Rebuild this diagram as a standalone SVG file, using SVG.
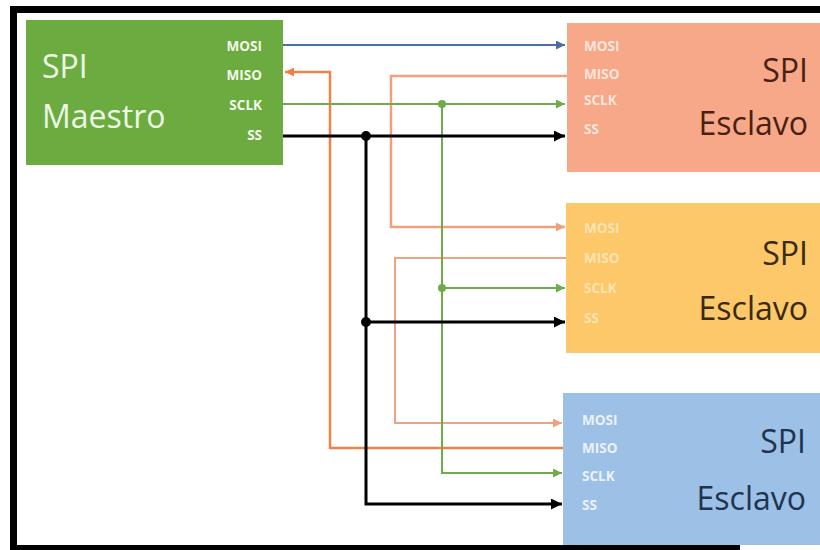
<svg xmlns="http://www.w3.org/2000/svg" width="820" height="550" viewBox="0 0 820 550">
  <style>
    .title { font-family: "Open Sans", "Liberation Sans", sans-serif; font-size: 32px; }
    .pin { font-family: "Open Sans", "Liberation Sans", sans-serif; font-size: 13.5px; font-weight: bold; }
    .wire { fill: none; stroke-linejoin: miter; }
  </style>
  <defs>
    <marker id="a-blue" viewBox="0 0 10 10" refX="10" refY="5" markerWidth="9" markerHeight="9" markerUnits="userSpaceOnUse" orient="auto"><path d="M0,0 L10,5 L0,10 z" fill="#4a6fa5"/></marker>
    <marker id="a-orange" viewBox="0 0 10 10" refX="10" refY="5" markerWidth="9" markerHeight="9" markerUnits="userSpaceOnUse" orient="auto"><path d="M0,0 L10,5 L0,10 z" fill="#ee7f45"/></marker>
    <marker id="a-salmon" viewBox="0 0 10 10" refX="10" refY="5" markerWidth="9" markerHeight="9" markerUnits="userSpaceOnUse" orient="auto"><path d="M0,0 L10,5 L0,10 z" fill="#f0a07c"/></marker>
    <marker id="a-green" viewBox="0 0 10 10" refX="10" refY="5" markerWidth="9" markerHeight="9" markerUnits="userSpaceOnUse" orient="auto"><path d="M0,0 L10,5 L0,10 z" fill="#6fab4a"/></marker>
    <marker id="a-black" viewBox="0 0 10 10" refX="10" refY="5" markerWidth="11" markerHeight="11" markerUnits="userSpaceOnUse" orient="auto"><path d="M0,0 L10,5 L0,10 z" fill="#000"/></marker>
  </defs>

  <rect x="0" y="0" width="820" height="550" fill="#ffffff"/>

  <!-- frame -->
  <g id="frame" fill="#000">
    <rect x="10" y="6" width="810" height="7"/>
    <rect x="10" y="6" width="7" height="544"/>
    <rect x="10" y="545" width="730" height="5"/>
  </g>

  <g id="master">
    <rect x="26" y="20" width="257" height="145" fill="#6cab3f"/>
    <text class="title" x="42" y="78" fill="#eef7e6">SPI</text>
    <text class="title" x="42" y="128" fill="#eef7e6">Maestro</text>
    <g class="pin" fill="#f2f9ec" text-anchor="end">
      <text x="262" y="51">MOSI</text>
      <text x="262" y="80">MISO</text>
      <text x="262" y="110">SCLK</text>
      <text x="262" y="140">SS</text>
    </g>
  </g>

  <g id="slave1">
    <rect x="567" y="23" width="253" height="149" fill="#f6a888"/>
    <text class="title" x="808" y="82" text-anchor="end" fill="#4a1f14">SPI</text>
    <text class="title" x="808" y="135" text-anchor="end" fill="#4a1f14">Esclavo</text>
    <g class="pin" fill="#fde6dc">
      <text x="584" y="51">MOSI</text>
      <text x="584" y="79">MISO</text>
      <text x="584" y="105">SCLK</text>
      <text x="584" y="134">SS</text>
    </g>
  </g>

  <g id="slave2">
    <rect x="566" y="203" width="254" height="150" fill="#fcc86a"/>
    <text class="title" x="808" y="265" text-anchor="end" fill="#3a2a10">SPI</text>
    <text class="title" x="808" y="320" text-anchor="end" fill="#3a2a10">Esclavo</text>
    <g class="pin" fill="#fde3b4">
      <text x="584" y="233">MOSI</text>
      <text x="584" y="263">MISO</text>
      <text x="584" y="293">SCLK</text>
      <text x="584" y="323">SS</text>
    </g>
  </g>

  <g id="slave3">
    <rect x="563" y="393" width="257" height="152" fill="#9cc0e6"/>
    <text class="title" x="806" y="453" text-anchor="end" fill="#1f3450">SPI</text>
    <text class="title" x="806" y="510" text-anchor="end" fill="#1f3450">Esclavo</text>
    <g class="pin" fill="#eaf2fb">
      <text x="582" y="425">MOSI</text>
      <text x="582" y="453">MISO</text>
      <text x="582" y="481">SCLK</text>
      <text x="582" y="510">SS</text>
    </g>
  </g>

  <g id="connectors">
    <!-- MOSI master -> slave1 -->
    <path class="wire" d="M283,45 H565" stroke="#4a6fa5" stroke-width="2" marker-end="url(#a-blue)"/>
    <!-- slave1 MISO -> slave2 MOSI -->
    <path class="wire" d="M567,76 H391 V227 H565" stroke="#f2a07c" stroke-width="2.5" marker-end="url(#a-salmon)"/>
    <!-- slave2 MISO -> slave3 MOSI -->
    <path class="wire" d="M566,258 H395 V423 H562" stroke="#eea184" stroke-width="2" marker-end="url(#a-salmon)"/>
    <!-- slave3 MISO -> master MISO -->
    <path class="wire" d="M563,448 H330 V72 H285" stroke="#ee8248" stroke-width="2.5" marker-end="url(#a-orange)"/>
    <!-- SCLK -->
    <path class="wire" d="M283,104 H565" stroke="#6fab4a" stroke-width="2" marker-end="url(#a-green)"/>
    <path class="wire" d="M442,104 V473 H562" stroke="#6fab4a" stroke-width="2" marker-end="url(#a-green)"/>
    <path class="wire" d="M442,288 H565" stroke="#6fab4a" stroke-width="2" marker-end="url(#a-green)"/>
    <circle cx="442" cy="104" r="4" fill="#6fab4a"/>
    <circle cx="442" cy="288" r="4" fill="#6fab4a"/>
    <!-- SS -->
    <path class="wire" d="M283,136 H565" stroke="#000" stroke-width="3" marker-end="url(#a-black)"/>
    <path class="wire" d="M366,136 V504 H562" stroke="#000" stroke-width="3" marker-end="url(#a-black)"/>
    <path class="wire" d="M366,322 H565" stroke="#000" stroke-width="3" marker-end="url(#a-black)"/>
    <circle cx="366" cy="136" r="5" fill="#000"/>
    <circle cx="366" cy="322" r="5" fill="#000"/>
  </g>
</svg>
